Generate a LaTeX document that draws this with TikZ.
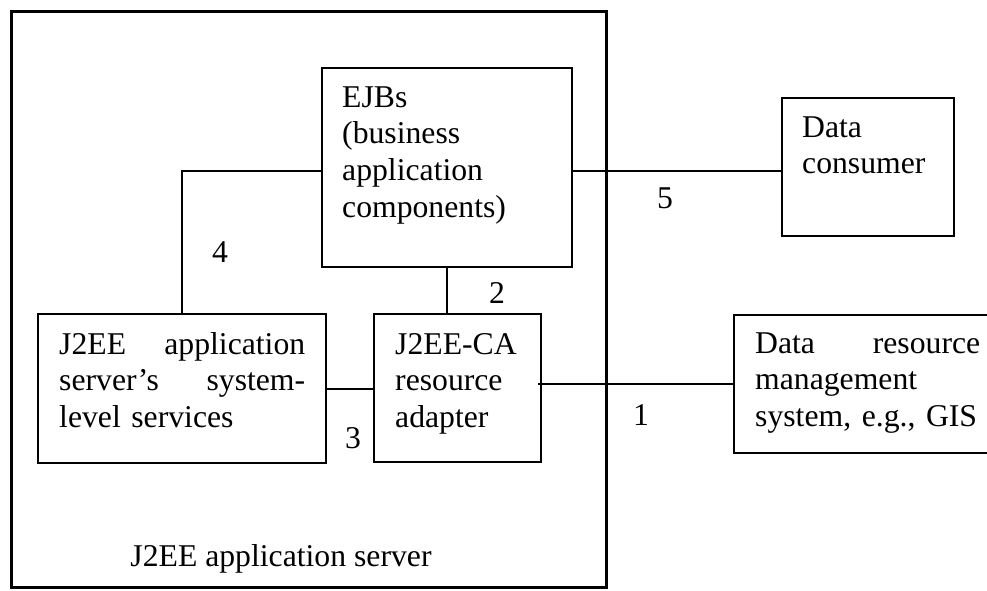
\documentclass[tikz,border=0pt]{standalone}
\usepackage{fontspec}
\setmainfont{Liberation Serif}
\begin{document}
\begin{tikzpicture}[x=1pt,y=-1pt,
  box/.style={draw,line width=2pt,inner sep=0pt},
  conn/.style={line width=2pt},
  txt/.style={inner sep=0pt,anchor=base west,align=left,font=\fontsize{31.7}{36.7}\selectfont},
  lbl/.style={inner sep=0pt,anchor=base,font=\fontsize{31.7}{36.7}\selectfont}]
\useasboundingbox (0,0) rectangle (987,590);
% outer server box
\node[draw,line width=3.2pt,inner sep=0pt,minimum width=595pt,minimum height=576pt] (server) at (309,299.5) {};
% boxes
\node[box,minimum width=250pt,minimum height=199pt] (ejb) at (447,167.5) {};
\node[box,minimum width=288pt,minimum height=149pt] (svc) at (182,388.5) {};
\node[box,minimum width=167pt,minimum height=148pt] (ca) at (457.5,388) {};
\node[box,minimum width=172pt,minimum height=138pt] (cons) at (868,167) {};
\node[box,minimum width=261pt,minimum height=138pt] (drm) at (864.5,384) {};
% texts
\node[txt,text width=228pt] (ejbt) at (342,107) {EJBs\\(business\\application\\components)};
\node[txt,text width=250pt] (svct) at (59,354) {\makebox[246pt][l]{J2EE\hfill application}\\\makebox[246pt][l]{server’s\hfill system-}\\level services};
\node[txt,text width=145pt] (cat) at (395,354) {J2EE-CA\\resource\\adapter};
\node[txt,text width=150pt] (const) at (802,137) {Data\\consumer};
\node[txt,text width=232pt] (drmt) at (755,353) {\makebox[225pt][l]{Data\hfill resource}\\management\\system, e.g., GIS};
\node[lbl] (servert) at (281,566) {J2EE application server};
% connectors
\draw[conn] ([yshift=-3.5pt]ejb.west) -| (svc.north);
\draw[conn] (ejb.south) -- (ejb.south |- ca.north);
\draw[conn] (svc.east) -- (svc.east -| ca.west);
\draw[conn] ([xshift=-4pt]ca.east |- drm.west) -- (drm.west);
\draw[conn] ([yshift=-3pt]ejb.east) -- ([yshift=-3pt]ejb.east -| cons.west);
% labels
\node[lbl] (l4) at (220,262) {4};
\node[lbl] (l2) at (497,303) {2};
\node[lbl] (l3) at (353,448) {3};
\node[lbl] (l1) at (641,425) {1};
\node[lbl] (l5) at (665,208) {5};
\end{tikzpicture}
\end{document}
